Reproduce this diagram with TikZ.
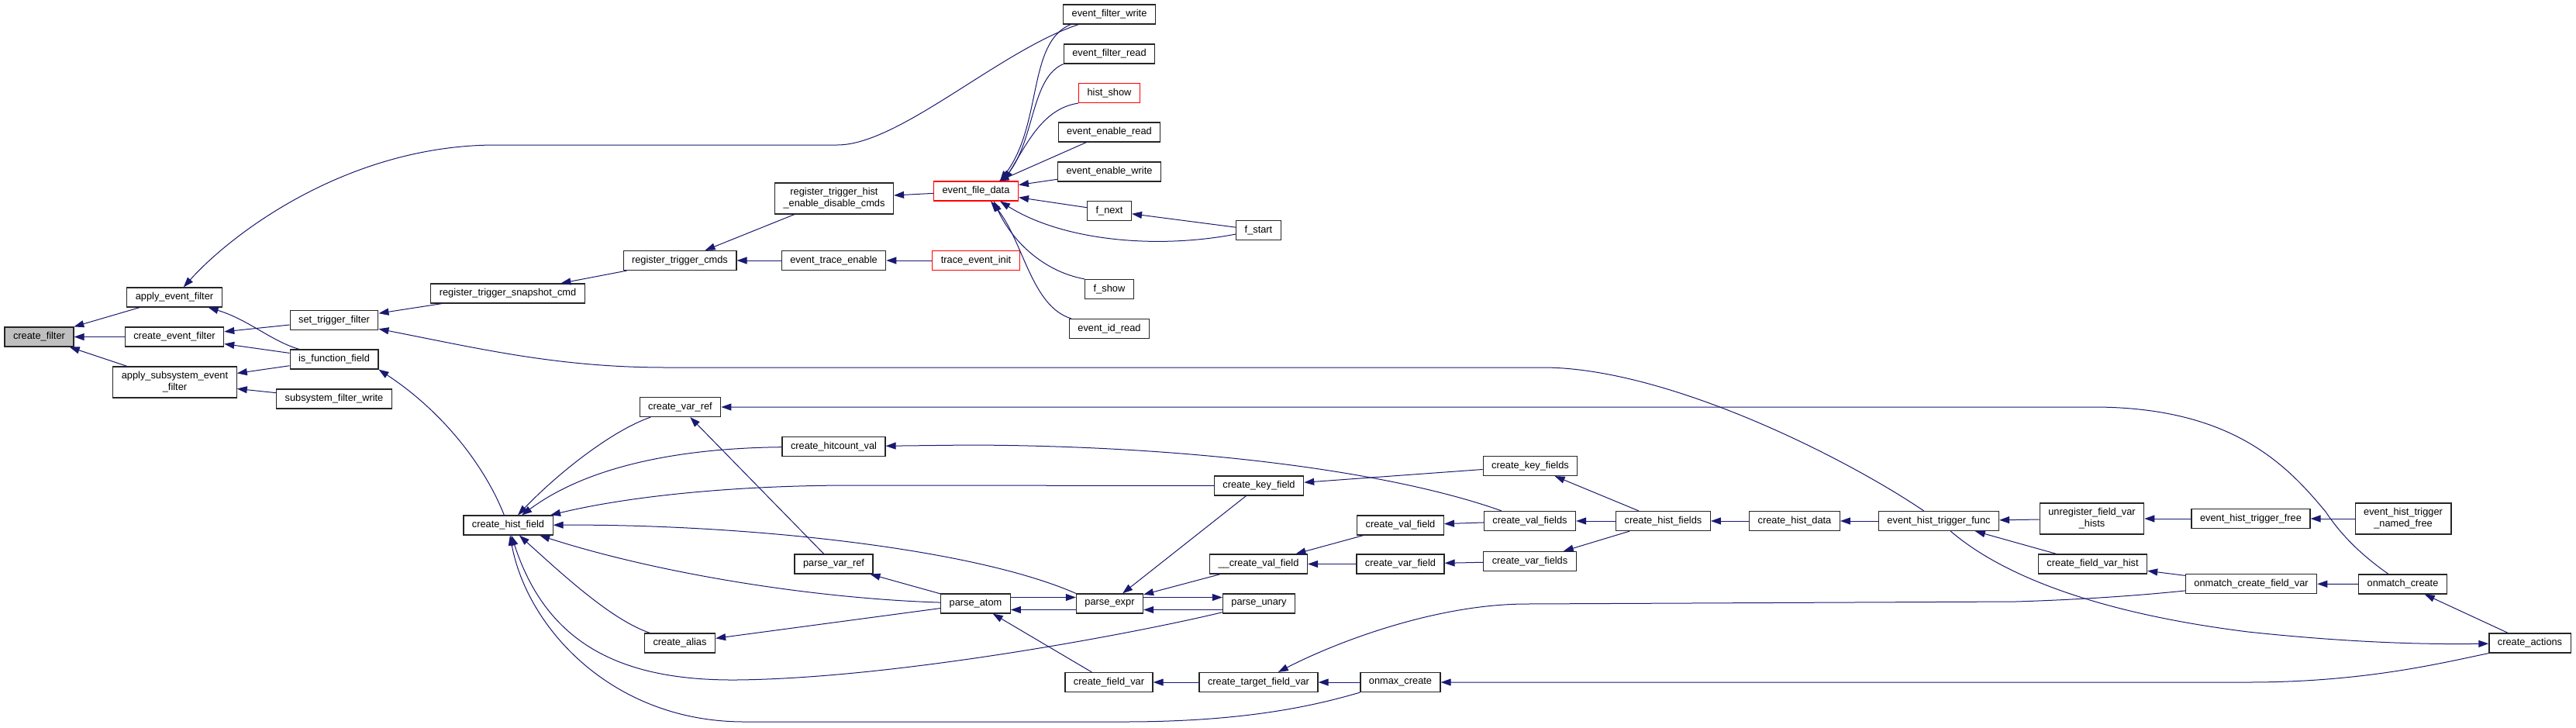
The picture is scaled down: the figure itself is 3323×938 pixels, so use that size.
\documentclass[tikz,border=0pt]{standalone}
\usepackage{fontspec}
\setmainfont{Liberation Sans}
\usetikzlibrary{arrows.meta}
\definecolor{edgeblue}{HTML}{191970}
\definecolor{rootgray}{HTML}{BFBFBF}
\newcommand{\graphfont}{\fontsize{12.8pt}{15pt}\selectfont}
\tikzset{
    fn/.style={draw=black!85, line width=1.2pt, fill=white, font=\graphfont, align=center,
        minimum height=25pt, inner xsep=11pt, inner ysep=2pt},
    fntwo/.style={fn, minimum height=40pt},
    fnred/.style={fn, draw=red},
    fnroot/.style={fn, fill=rootgray},
    call/.style={draw=edgeblue, line width=1pt, {Triangle[length=13pt,width=9pt]}-},
    callfwd/.style={draw=edgeblue, line width=1pt, -{Triangle[length=13pt,width=9pt]}}
}

\begin{document}
\begin{tikzpicture}[x=1pt, y=-1pt]
    \useasboundingbox (0,0) rectangle (3323,938);

    \node[fnroot] (createFilter) at (50.5,434.5) {create\_filter};
    \node[fn] (applyEventFilter) at (225,383.5) {apply\_event\_filter};
    \node[fn] (createEventFilter) at (225,434.5) {create\_event\_filter};
    \node[fntwo] (applySubsys) at (225.5,493) {apply\_subsystem\_event\\\_filter};
    \node[fn] (setTriggerFilter) at (431,413) {set\_trigger\_filter};
    \node[fn] (isFunctionField) at (431,463.5) {is\_function\_field};
    \node[fn] (subsysFilterWrite) at (431,514.5) {subsystem\_filter\_write};
    \node[fn] (regSnapshotCmd) at (655,378.5) {register\_trigger\_snapshot\_cmd};
    \node[fn] (regTriggerCmds) at (877,336) {register\_trigger\_cmds};
    \node[fntwo] (regHistCmds) at (1076,256) {register\_trigger\_hist\\\_enable\_disable\_cmds};
    \node[fn] (eventTraceEnable) at (1075.5,336) {event\_trace\_enable};
    \node[fnred] (traceEventInit) at (1259,336) {trace\_event\_init};
    \node[fnred] (eventFileData) at (1259,246.5) {event\_file\_data};
    \node[fn] (eventFilterWrite) at (1431,18.5) {event\_filter\_write};
    \node[fn] (eventFilterRead) at (1431,69.5) {event\_filter\_read};
    \node[fnred] (histShow) at (1431,120) {hist\_show};
    \node[fn] (eventEnableRead) at (1431,170.5) {event\_enable\_read};
    \node[fn] (eventEnableWrite) at (1431,221.5) {event\_enable\_write};
    \node[fn] (fNext) at (1431,272) {f\_next};
    \node[fn] (fStart) at (1623.5,297) {f\_start};
    \node[fn] (fShow) at (1431,373) {f\_show};
    \node[fn] (eventIdRead) at (1431,424) {event\_id\_read};

    \node[fn] (createHistField) at (655.5,677.5) {create\_hist\_field};
    \node[fn] (createVarRef) at (877.5,525) {create\_var\_ref};
    \node[fn] (createHitcountVal) at (1075.5,576) {create\_hitcount\_val};
    \node[fn] (parseVarRef) at (1075.5,727.5) {parse\_var\_ref};
    \node[fn] (createAlias) at (877,829.5) {create\_alias};
    \node[fn] (parseAtom) at (1258.5,778.5) {parse\_atom};
    \node[fn] (parseExpr) at (1431.5,778.5) {parse\_expr};
    \node[fn] (createFieldVar) at (1430.5,880) {create\_field\_var};
    \node[fn] (createKeyField) at (1624,626.5) {create\_key\_field};
    \node[fn] (createValFieldU) at (1623.5,727.5) {\_\_create\_val\_field};
    \node[fn] (parseUnary) at (1624,778.5) {parse\_unary};
    \node[fn] (createTargetFieldVar) at (1623.5,880) {create\_target\_field\_var};
    \node[fn] (createValField) at (1806.5,677.5) {create\_val\_field};
    \node[fn] (createVarField) at (1806.5,727.5) {create\_var\_field};
    \node[fn] (onmaxCreate) at (1806.5,880) {onmax\_create};
    \node[fn] (createKeyFields) at (1974,601) {create\_key\_fields};
    \node[fn] (createValFields) at (1973.5,672) {create\_val\_fields};
    \node[fn] (createVarFields) at (1973.5,724) {create\_var\_fields};
    \node[fn] (createHistFields) at (2145.5,672) {create\_hist\_fields};
    \node[fn] (createHistData) at (2315,672) {create\_hist\_data};
    \node[fn] (eventHistTriggerFunc) at (2501,672) {event\_hist\_trigger\_func};
    \node[fntwo] (unregFieldVarHists) at (2698.5,669) {unregister\_field\_var\\\_hists};
    \node[fn] (createFieldVarHist) at (2699.5,727.5) {create\_field\_var\_hist};
    \node[fn] (eventHistTriggerFree) at (2903.5,669) {event\_hist\_trigger\_free};
    \node[fn] (onmatchCreateFieldVar) at (2904,753) {onmatch\_create\_field\_var};
    \node[fntwo] (namedFree) at (3100,669) {event\_hist\_trigger\\\_named\_free};
    \node[fn] (onmatchCreate) at (3099.5,753.5) {onmatch\_create};
    \node[fn] (createActions) at (3263.5,829.5) {create\_actions};

    \draw[call] (createFilter) -- (applyEventFilter);
    \draw[call] (createFilter) -- (createEventFilter);
    \draw[call] (createFilter) -- (applySubsys);
    \draw[call] (applyEventFilter) .. controls (300,300) and (450,187) .. (640,187) -- (1080,187)
        .. controls (1160,187) and (1290,65) .. (eventFilterWrite);
    \draw[call] (applyEventFilter) .. controls (320,412) and (350,440) .. (isFunctionField);
    \draw[call] (createEventFilter) -- (setTriggerFilter);
    \draw[call] (createEventFilter) -- (isFunctionField);
    \draw[call] (applySubsys) -- (isFunctionField);
    \draw[call] (applySubsys) -- (subsysFilterWrite);
    \draw[call] (setTriggerFilter) -- (regSnapshotCmd);
    \draw[call] (setTriggerFilter) .. controls (620,450) and (720,474) .. (860,474) -- (1990,474)
        .. controls (2150,474) and (2380,590) .. (eventHistTriggerFunc);
    \draw[call] (isFunctionField.south east) .. controls (570,530) and (625,600) .. (createHistField);
    \draw[call] (regSnapshotCmd) -- (regTriggerCmds);
    \draw[call] (regTriggerCmds) -- (regHistCmds);
    \draw[call] (regTriggerCmds) -- (eventTraceEnable);
    \draw[call] (eventTraceEnable) -- (traceEventInit);
    \draw[call] (regHistCmds) -- (eventFileData);

    \draw[call] ([xshift=-24pt]eventFileData.north east) .. controls (1345,160) and (1325,55) .. ([xshift=10pt]eventFilterWrite.south west);
    \draw[call] ([xshift=-21pt]eventFileData.north east) .. controls (1335,180) and (1330,100) .. (eventFilterRead.south west);
    \draw[call] ([xshift=-19pt]eventFileData.north east) .. controls (1325,185) and (1345,140) .. (histShow.south west);
    \draw[call] (eventFileData) -- (eventEnableRead);
    \draw[call] (eventFileData) -- (eventEnableWrite);
    \draw[call] (eventFileData) -- (fNext);
    \draw[call] ([xshift=-24pt]eventFileData.south east) .. controls (1370,310) and (1490,322) .. ([yshift=-5pt]fStart.west);
    \draw[call] ([xshift=-32pt]eventFileData.south east) .. controls (1305,310) and (1345,350) .. (fShow.north west);
    \draw[call] ([xshift=-36pt]eventFileData.south east) .. controls (1320,310) and (1330,395) .. ([xshift=3pt]eventIdRead.north west);
    \draw[call] (fNext) -- (fStart);

    \draw[call] (createHistField) .. controls (720,610) and (790,555) .. (createVarRef);
    \draw[call] (createHistField) .. controls (760,600) and (880,578) .. (createHitcountVal);
    \draw[call] (createHistField) .. controls (820,638) and (960,626) .. (1100,626) -- (createKeyField);
    \draw[call] (createHistField) .. controls (950,676) and (1250,705) .. (parseExpr.north west);
    \draw[call] (createHistField) .. controls (850,740) and (1050,772) .. (parseAtom);
    \draw[call] (createHistField) .. controls (730,745) and (790,800) .. (createAlias);
    \draw[call] (createHistField) .. controls (705,830) and (800,878) .. (950,877)
        .. controls (1150,875) and (1450,820) .. (parseUnary);
    \draw[call] (createHistField) .. controls (680,810) and (790,931) .. (960,931) -- (1450,931)
        .. controls (1600,931) and (1690,912) .. (onmaxCreate.south west);

    \draw[call] (createVarRef) -- (parseVarRef);
    \draw[call] (createVarRef) -- (2700,525) .. controls (2880,525) and (2950,600) .. (3000,660)
        .. controls (3020,690) and (3045,715) .. (onmatchCreate);
    \draw[call] (createHitcountVal) -- (1250,574) .. controls (1550,575) and (1800,610) .. (createValFields);
    \draw[call] (parseVarRef) -- (parseAtom);
    \draw[call] (createAlias) -- (parseAtom);
    \draw[call] ([yshift=-8pt]parseAtom.east) -- ([yshift=-8pt]parseExpr.west);
    \draw[callfwd] ([yshift=8pt]parseAtom.east) -- ([yshift=8pt]parseExpr.west);
    \draw[callfwd] ([yshift=8pt]parseExpr.east) -- ([yshift=8pt]parseUnary.west);
    \draw[call] ([yshift=-8pt]parseExpr.east) -- ([yshift=-8pt]parseUnary.west);
    \draw[call] (parseExpr) -- (createKeyField);
    \draw[call] (parseExpr) -- (createValFieldU);
    \draw[call] (parseAtom) -- (createFieldVar);
    \draw[call] (createFieldVar) -- (createTargetFieldVar);
    \draw[call] (createTargetFieldVar) -- (onmaxCreate);
    \draw[call] (createTargetFieldVar) .. controls (1720,830) and (1850,779) .. (1970,779) -- (2600,776)
        .. controls (2700,773) and (2780,766) .. (onmatchCreateFieldVar);
    \draw[call] (onmaxCreate) -- (2900,880) .. controls (3050,880) and (3150,855) .. (createActions.south west);

    \draw[call] (createValFieldU) -- (createValField);
    \draw[call] (createValFieldU) -- (createVarField);
    \draw[call] (createValField) -- (createValFields);
    \draw[call] (createVarField) -- (createVarFields);
    \draw[call] (createKeyField) -- (createKeyFields);
    \draw[call] (createKeyFields) -- (createHistFields);
    \draw[call] (createValFields) -- (createHistFields);
    \draw[call] (createVarFields) -- (createHistFields);
    \draw[call] (createHistFields) -- (createHistData);
    \draw[call] (createHistData) -- (eventHistTriggerFunc);
    \draw[call] (eventHistTriggerFunc) -- (unregFieldVarHists);
    \draw[call] (eventHistTriggerFunc) -- (createFieldVarHist);
    \draw[callfwd] (eventHistTriggerFunc) .. controls (2580,740) and (2700,790) .. (2900,815)
        .. controls (3050,831) and (3150,831) .. (createActions);
    \draw[call] (unregFieldVarHists) -- (eventHistTriggerFree);
    \draw[call] (eventHistTriggerFree) -- (namedFree);
    \draw[call] (createFieldVarHist) -- (onmatchCreateFieldVar);
    \draw[call] (onmatchCreateFieldVar) -- (onmatchCreate);
    \draw[call] (onmatchCreate) -- (createActions);
\end{tikzpicture}
\end{document}
